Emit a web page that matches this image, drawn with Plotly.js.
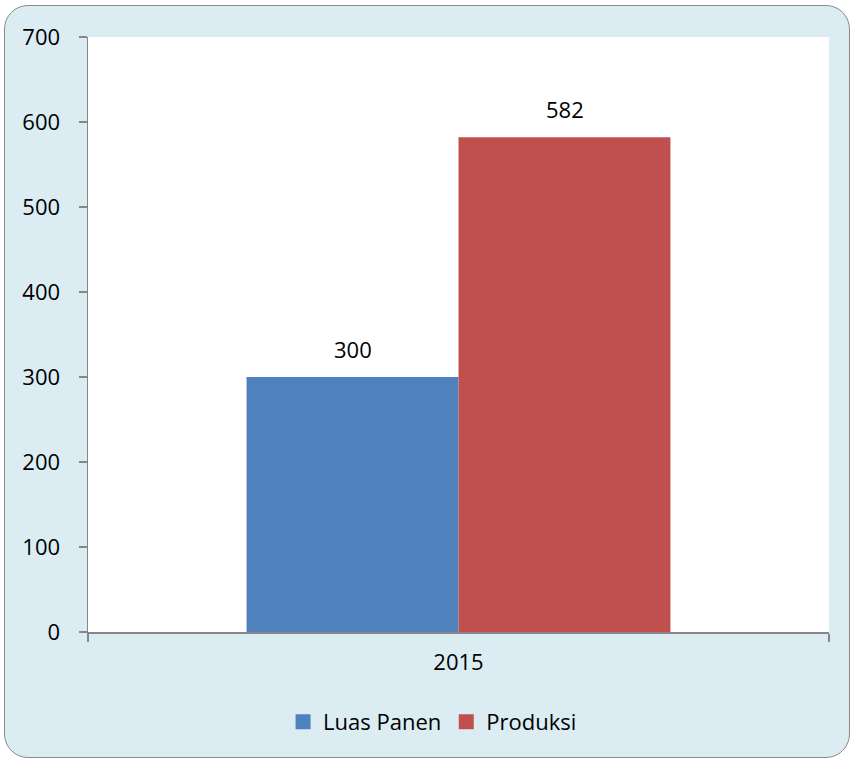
<!DOCTYPE html>
<html>
<head>
<meta charset="utf-8">
<script src="https://cdn.plot.ly/plotly-3.0.1.min.js"></script>
<style>
  html, body { margin: 0; padding: 0; background: #ffffff; }
  #frame { position: absolute; left: 4px; top: 5px; width: 844px; height: 751px;
           border: 1.5px solid #8a8a8a; border-radius: 24px; background: #dbedf3; }
  #chart { position: absolute; left: 0; top: 0; width: 854px; height: 762px; }
</style>
</head>
<body>
<div id="frame"></div>
<div id="chart"></div>
<script>
const categories = ['2015'];
const seriesNames = ['Luas Panen', 'Produksi'];
const luasPanen = [300];
const produksi = [582];
const yTicks = [0, 100, 200, 300, 400, 500, 600, 700];
const colors = ['#4f81bd', '#c0504d'];

const font = "'Open Sans', 'Noto Sans', sans-serif";

const traces = [
  { type: 'bar', name: seriesNames[0], x: categories, y: luasPanen, marker: { color: colors[0], line: { width: 0 } }, hoverinfo: 'none', showlegend: false },
  { type: 'bar', name: seriesNames[1], x: categories, y: produksi, marker: { color: colors[1], line: { width: 0 } }, hoverinfo: 'none', showlegend: false },
  // legend-only entries with larger square swatches
  { type: 'scatter', mode: 'markers', name: seriesNames[0], x: [null], y: [null], marker: { color: colors[0], symbol: 'square', size: 15 }, hoverinfo: 'none' },
  { type: 'scatter', mode: 'markers', name: seriesNames[1], x: [null], y: [null], marker: { color: colors[1], symbol: 'square', size: 15 }, hoverinfo: 'none' }
];

const annotations = [];
[luasPanen, produksi].forEach((arr, si) => {
  arr.forEach((v, i) => {
    annotations.push({
      x: i, y: v, xref: 'x', yref: 'y',
      text: String(v), showarrow: false,
      xshift: si === 0 ? -106 : 106, yshift: 28, yanchor: 'middle',
      font: { family: font, size: 22, color: '#000000' }
    });
  });
});

const layout = {
  width: 854, height: 762,
  margin: { l: 88, r: 25, t: 37, b: 130 },
  paper_bgcolor: 'rgba(0,0,0,0)',
  plot_bgcolor: '#ffffff',
  barmode: 'group',
  bargap: 0.428,
  bargroupgap: 0,
  font: { family: font, size: 22, color: '#000000' },
  showlegend: true,
  legend: {
    orientation: 'h', x: 0.465, xanchor: 'center', y: -0.151, yanchor: 'middle',
    font: { family: font, size: 22, color: '#000000' },
    bgcolor: 'rgba(0,0,0,0)', itemwidth: 30, traceorder: 'normal'
  },
  xaxis: {
    type: 'category', range: [-0.5, categories.length - 0.5], autorange: false,
    showgrid: false, zeroline: false,
    showline: true, linecolor: '#868686', linewidth: 1.5,
    ticks: 'outside', tickson: 'boundaries', ticklen: 8, tickcolor: '#868686', tickwidth: 1.5,
    tickangle: 0,
    tickfont: { family: font, size: 22, color: '#000000' },
    ticklabelstandoff: 10,
    fixedrange: true
  },
  yaxis: {
    range: [0, 700], autorange: false, tickvals: yTicks, ticktext: yTicks.map(String),
    showgrid: false, zeroline: false,
    showline: true, linecolor: '#868686', linewidth: 1.5,
    ticks: 'outside', ticklen: 8, tickcolor: '#868686', tickwidth: 1.5,
    tickfont: { family: font, size: 22, color: '#000000' },
    ticklabelstandoff: 14,
    fixedrange: true
  },
  annotations: annotations
};

Plotly.newPlot('chart', traces, layout, { displayModeBar: false, staticPlot: true });
</script>
</body>
</html>
